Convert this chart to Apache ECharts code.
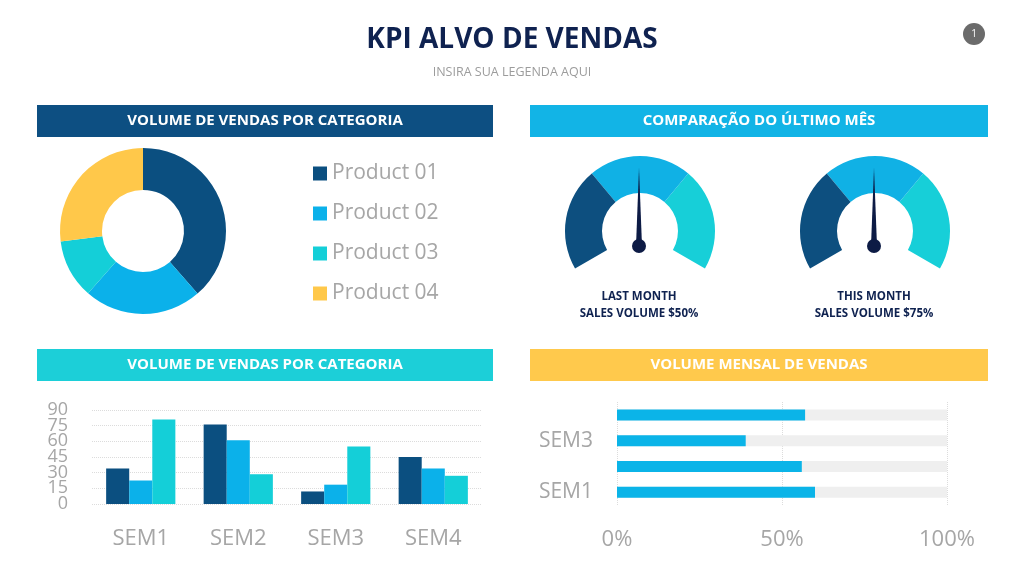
<!DOCTYPE html>
<html><head><meta charset="utf-8">
<script src="https://cdn.jsdelivr.net/npm/echarts@6.0.0/dist/echarts.min.js"></script>
<style>html,body{margin:0;padding:0;background:#fff}#c{width:1024px;height:564px}</style>
</head><body><div id="c"></div>
<script>
// ---- data ----
const productNames = ['Product 01', 'Product 02', 'Product 03', 'Product 04'];
const productShares = [38.6, 22.9, 11.5, 27.0];
const semesters = ['SEM1', 'SEM2', 'SEM3', 'SEM4'];
const seriesDark = [34, 76, 12, 45];
const seriesLight = [22.5, 61, 18.5, 34];
const seriesCyan = [81, 28.5, 55, 27];
const yTickLabelsEven = [0, 30, 60, 90];
const yTickLabelsOdd = [15, 45, 75];
const monthlyPct = [60, 56, 39, 57];
const gaugeValues = [50, 50];
const gaugeLabels = [['LAST MONTH', 'SALES VOLUME $50%'], ['THIS MONTH', 'SALES VOLUME $75%']];
const headerTitles = ['VOLUME DE VENDAS POR CATEGORIA', 'COMPARAÇÃO DO ÚLTIMO MÊS', 'VOLUME DE VENDAS POR CATEGORIA', 'VOLUME MENSAL DE VENDAS'];
const mainTitle = 'KPI ALVO DE VENDAS';
const subTitle = 'INSIRA SUA LEGENDA AQUI';
const pageNumber = '1';

// ---- styles ----
const C_DARK = '#0b4f80', C_LIGHT = '#0bb1ea', C_CYAN = '#14cfd8', C_YELLOW = '#ffc84a';
const NAVY = '#0f2250';
const GRAY = '#a6a6a6';
const FONT = '"Open Sans", "Noto Sans", sans-serif';

const headerBoxes = [
  { x: 37, y: 105, w: 456, h: 32, color: '#0d4f82' },
  { x: 530, y: 105, w: 458, h: 32, color: '#12b4e6' },
  { x: 37, y: 349, w: 456, h: 32, color: '#1ccfd8' },
  { x: 530, y: 349, w: 458, h: 32, color: '#ffc94c' }
];

const graphics = [];
headerBoxes.forEach((b, i) => {
  graphics.push({ type: 'rect', shape: { x: b.x, y: b.y, width: b.w, height: b.h }, style: { fill: b.color }, silent: true });
  graphics.push({ type: 'text', x: b.x + b.w / 2, y: b.y + b.h / 2, style: { text: headerTitles[i], fill: '#fff', font: 'bold 15px ' + FONT, textAlign: 'center', textVerticalAlign: 'middle' }, silent: true });
});
graphics.push({ type: 'text', x: 512, y: 40, style: { text: mainTitle, fill: NAVY, font: 'bold 28px ' + FONT, textAlign: 'center', textVerticalAlign: 'middle' } });
graphics.push({ type: 'text', x: 512, y: 72, style: { text: subTitle, fill: '#9c9c9c', font: '12.5px ' + FONT, textAlign: 'center', textVerticalAlign: 'middle' } });
graphics.push({ type: 'circle', shape: { cx: 974, cy: 34, r: 11 }, style: { fill: '#6b6b6b' } });
graphics.push({ type: 'text', x: 974, y: 34, style: { text: pageNumber, fill: '#fff', font: '10px ' + FONT, textAlign: 'center', textVerticalAlign: 'middle' } });
const gaugeCentersX = [639, 874];
gaugeLabels.forEach((lines, i) => {
  lines.forEach((t, j) => {
    graphics.push({ type: 'text', x: gaugeCentersX[i], y: 297 + j * 16.5, style: { text: t, fill: NAVY, font: 'bold 11.5px ' + FONT, textAlign: 'center', textVerticalAlign: 'middle' } });
  });
});

function gaugeArc(cx, val) {
  return {
    type: 'gauge', center: [cx + 1, 231], radius: 75, startAngle: 210, endAngle: -30, min: 0, max: 100,
    axisLine: { lineStyle: { width: 37, color: [[1 / 3, '#0d4f7f'], [2 / 3, '#10b1e5'], [1, '#17cfd8']] } },
    splitLine: { show: false }, axisTick: { show: false }, axisLabel: { show: false },
    pointer: { show: false }, anchor: { show: false }, title: { show: false }, detail: { show: false },
    silent: true, data: [{ value: val }]
  };
}
function gaugeNeedle(cx, val) {
  return {
    type: 'gauge', center: [cx, 246], radius: 78, startAngle: 210, endAngle: -30, min: 0, max: 100,
    axisLine: { show: false }, splitLine: { show: false }, axisTick: { show: false }, axisLabel: { show: false },
    pointer: { show: true, icon: 'path://M1,0 L2,10 L0,10 Z', length: 78, width: 6, itemStyle: { color: '#0d1b45' } },
    anchor: { show: true, size: 14, showAbove: true, itemStyle: { color: '#0d1b45' } },
    title: { show: false }, detail: { show: false }, silent: true, data: [{ value: val }]
  };
}

function yLabelAxis(list, withSplit) {
  return {
    gridIndex: 0, type: 'value', min: 0, max: 90, interval: 15, position: 'left', offset: 0,
    axisLine: { show: false }, axisTick: { show: false },
    axisLabel: { fontSize: 18, color: GRAY, margin: 24, fontFamily: FONT, showMinLabel: true, showMaxLabel: true,
      formatter: v => (list.indexOf(v) >= 0 ? String(v) : '') },
    splitLine: { show: withSplit, lineStyle: { type: 'dotted', color: '#dcdcdc' } }
  };
}

const chart = echarts.init(document.getElementById('c'), null, { renderer: 'canvas' });
chart.setOption({
  animation: false,
  backgroundColor: '#fff',
  textStyle: { fontFamily: FONT },
  graphic: graphics,
  legend: {
    data: productNames, orient: 'vertical', left: 313, top: 163, padding: 0,
    itemWidth: 14, itemHeight: 14, itemGap: 19, icon: 'rect', selectedMode: false,
    textStyle: { fontSize: 21, color: GRAY, fontFamily: FONT, fontWeight: 'normal' }
  },
  grid: [
    { left: 92, right: 542, top: 410, bottom: 60 },
    { left: 617, right: 77, top: 402, bottom: 59 }
  ],
  xAxis: [
    { gridIndex: 0, type: 'category', data: semesters, axisLine: { show: false }, axisTick: { show: false },
      axisLabel: { fontSize: 22, color: GRAY, margin: 24, fontFamily: FONT } },
    { gridIndex: 1, type: 'value', min: 0, max: 100, interval: 50, axisLine: { show: false }, axisTick: { show: false },
      axisLabel: { fontSize: 22, color: GRAY, margin: 24, formatter: '{value}%', fontFamily: FONT, showMinLabel: true, showMaxLabel: true },
      splitLine: { lineStyle: { type: 'dotted', color: '#dcdcdc' } } }
  ],
  yAxis: [
    yLabelAxis(yTickLabelsEven, true),
    { gridIndex: 1, type: 'category', data: semesters, axisLine: { show: false }, axisTick: { show: false },
      axisLabel: { interval: 1, fontSize: 21, color: GRAY, margin: 24, fontFamily: FONT }, splitLine: { show: false } },
    yLabelAxis(yTickLabelsOdd, false)
  ],
  series: [
    {
      type: 'pie', center: [143, 231], radius: [41, 83], startAngle: 90, clockwise: true,
      label: { show: false }, labelLine: { show: false }, silent: true,
      data: productNames.map((n, i) => ({ name: n, value: productShares[i], itemStyle: { color: [C_DARK, C_LIGHT, C_CYAN, C_YELLOW][i] } }))
    },
    { name: 'S1', type: 'bar', xAxisIndex: 0, yAxisIndex: 0, data: seriesDark, itemStyle: { color: C_DARK }, barGap: '0%', barCategoryGap: '29%', silent: true },
    { name: 'S2', type: 'bar', xAxisIndex: 0, yAxisIndex: 0, data: seriesLight, itemStyle: { color: C_LIGHT }, silent: true },
    { name: 'S3', type: 'bar', xAxisIndex: 0, yAxisIndex: 0, data: seriesCyan, itemStyle: { color: C_CYAN }, silent: true },
    { name: 'Mensal', type: 'bar', xAxisIndex: 1, yAxisIndex: 1, data: monthlyPct, barWidth: 11,
      showBackground: true, backgroundStyle: { color: '#efefef' }, itemStyle: { color: '#0bb4e8' }, silent: true },
    gaugeArc(639, gaugeValues[0]), gaugeNeedle(639, gaugeValues[0]),
    gaugeArc(874, gaugeValues[1]), gaugeNeedle(874, gaugeValues[1])
  ]
});
</script></body></html>
